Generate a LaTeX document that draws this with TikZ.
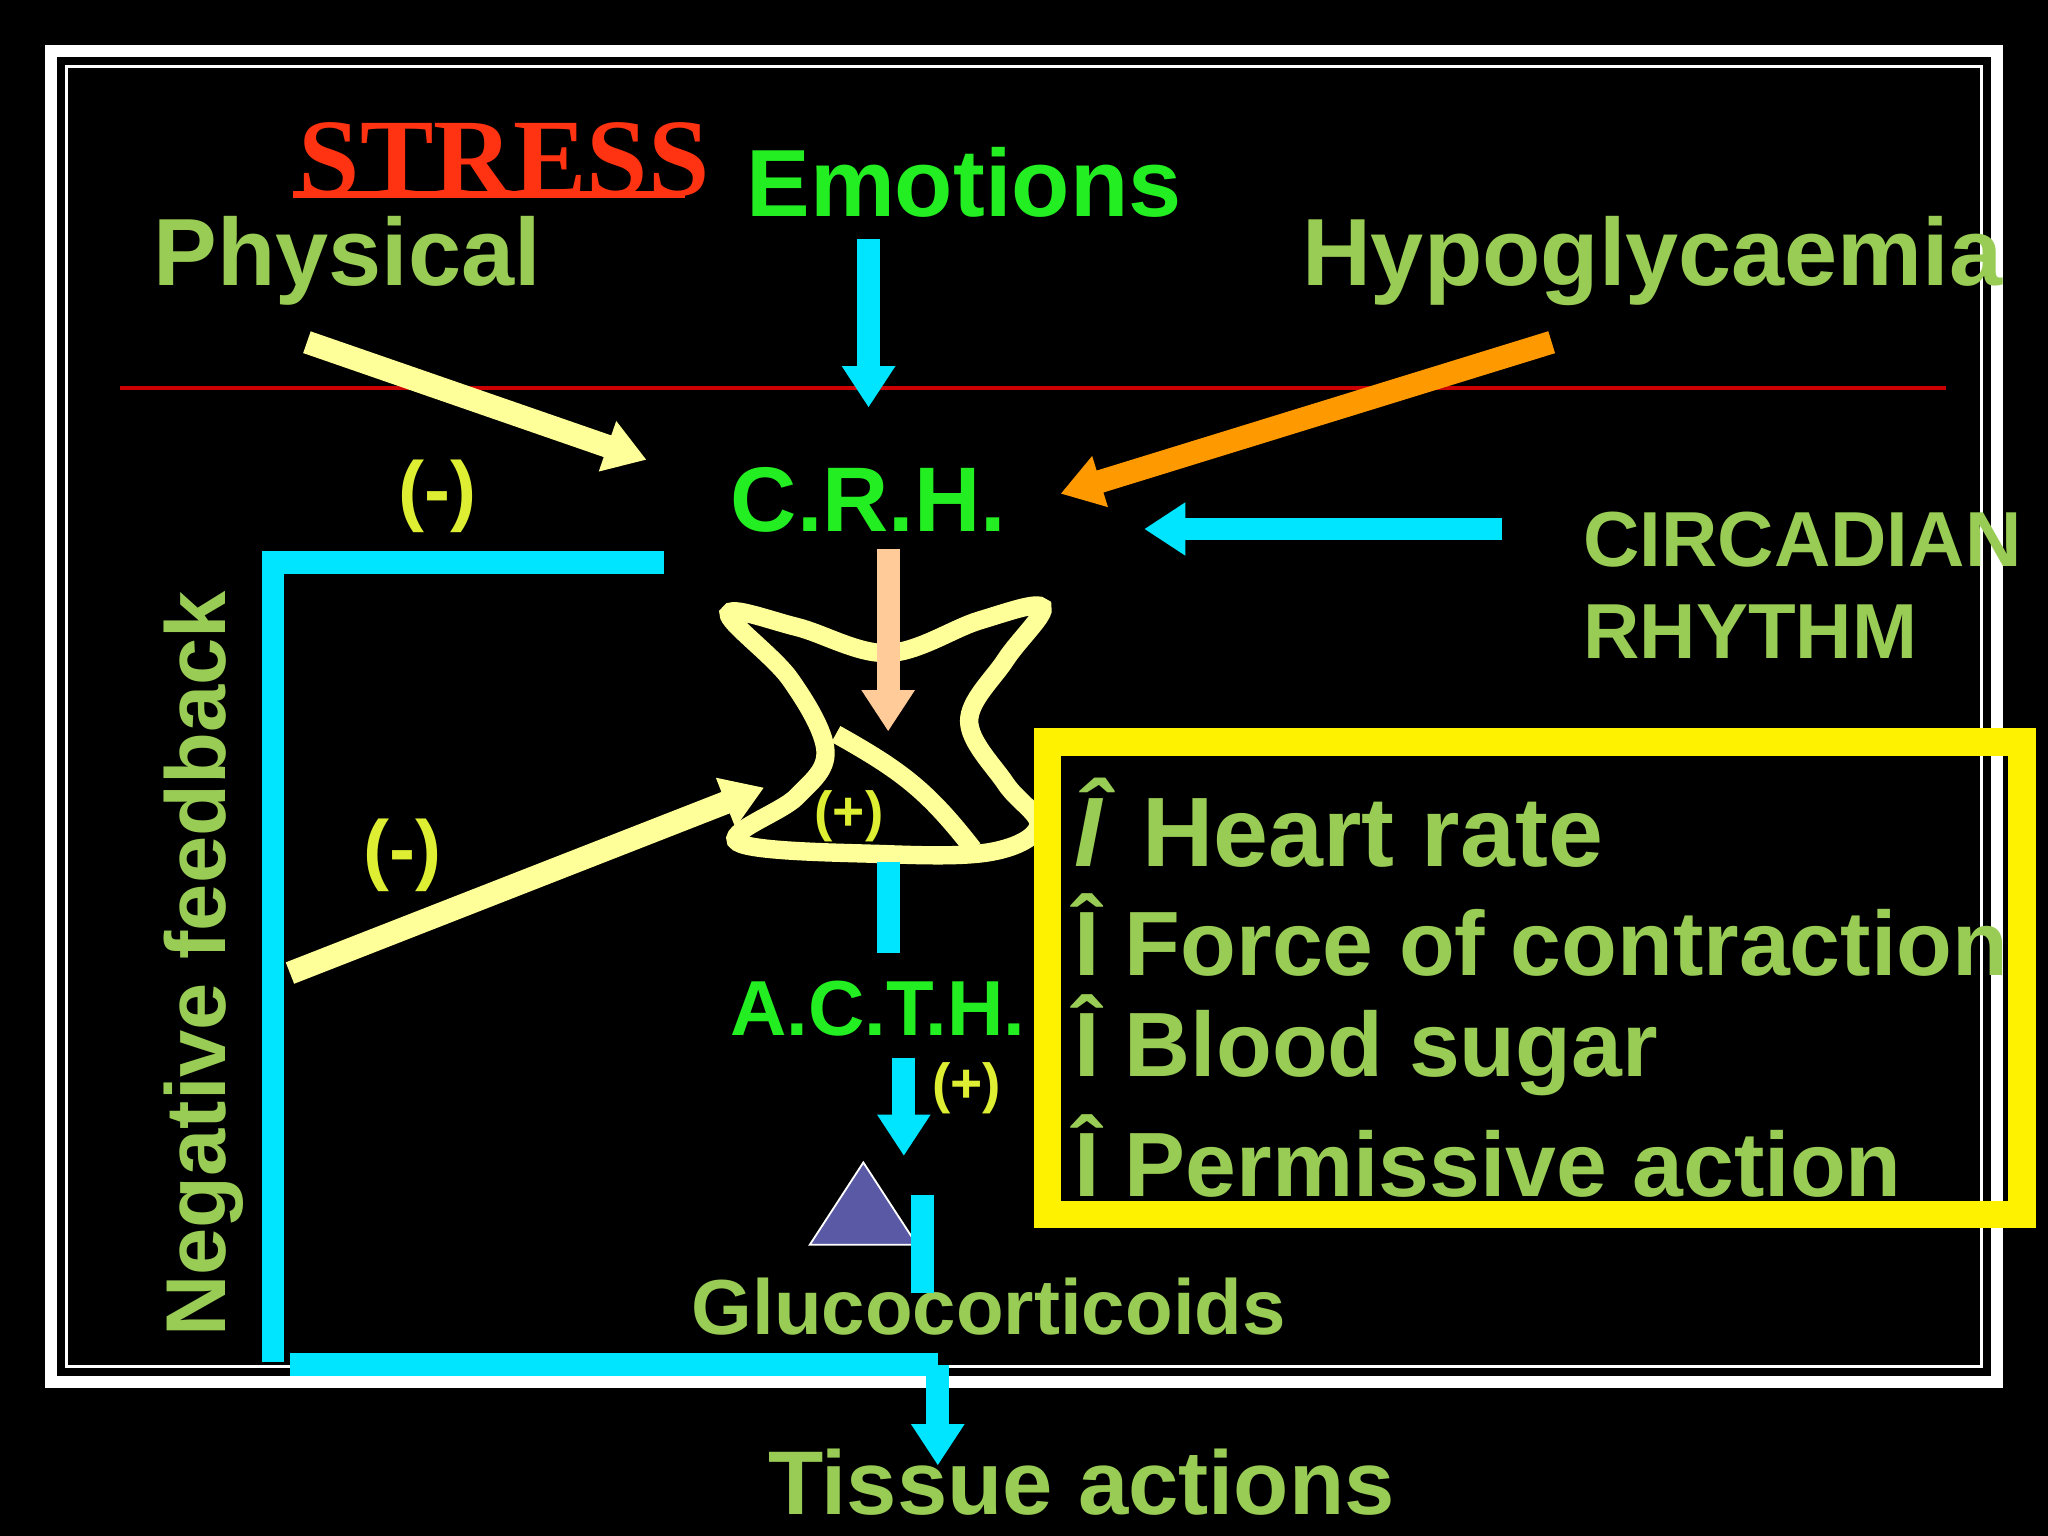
\documentclass[tikz,border=0pt]{standalone}
\usepackage{fontspec}
\setmainfont{Liberation Sans}
\newfontfamily\serifb{Liberation Serif}
\usetikzlibrary{arrows.meta}
\definecolor{lg}{HTML}{99CC55}
\definecolor{gg}{HTML}{22EE22}
\definecolor{cy}{HTML}{00E5FF}
\definecolor{yl}{HTML}{FFFF99}
\definecolor{ym}{HTML}{DDEE33}
\definecolor{org}{HTML}{FF9900}
\definecolor{pk}{HTML}{FFCC99}
\definecolor{stress}{HTML}{FF3311}
\begin{document}
\begin{tikzpicture}[x=0.1mm,y=-0.1mm,
  big/.style={font=\fontsize{20.8}{24}\selectfont\bfseries},
  box/.style={font=\fontsize{19.9}{24}\selectfont\bfseries,text=lg,anchor=west},
  mid/.style={font=\fontsize{17}{20}\selectfont\bfseries},
  sm/.style={font=\fontsize{12}{14}\selectfont\bfseries},
  arr/.style={line width=5pt,-{Triangle[length=9pt,width=11pt]}},
  ln/.style={line width=5pt}]
\fill[black] (0,0) rectangle (1568,1176);
\useasboundingbox (0,0) rectangle (1568,1176);
\draw[white,line width=2.6pt] (39,39) rectangle (1529,1058);
\draw[white,line width=0.7pt] (51,51) rectangle (1517,1046);
\draw[red!80!black,line width=0.7pt] (92,297) -- (1490,297);
\node[text=stress,font=\serifb\fontsize{24}{26}\selectfont\bfseries] (stress) at (386,122) {STRESS};
\draw[stress,line width=1.5pt] (stress.south west)++(8,-14) -- ++(300,0);
\node[big,text=gg] (emo) at (738,140) {Emotions};
\node[big,text=lg] (phys) at (266,200) {Physical};
\node[big,text=lg] (hypo) at (1265,200) {Hypoglycaemia};
\node[font=\fontsize{20}{24}\selectfont\bfseries,text=gg] (crh) at (665,383) {C.R.H.};
\node[mid,text=lg,align=left,anchor=west] (circ) at (1200,448) {CIRCADIAN\\[0pt]RHYTHM};
\node[mid,text=ym] (m1) at (335,380) {(-)};
\node[mid,text=ym] (m2) at (308,655) {(-)};
\node[font=\fontsize{18.5}{22}\selectfont\bfseries,text=lg,rotate=90] (neg) at (156,738) {Negative feedback};
\node[mid,text=gg] (acth) at (672,772) {A.C.T.H.};
\node[sm,text=ym] (p1) at (650,625) {(+)};
\node[sm,text=ym] (p2) at (740,833) {(+)};
\node[mid,text=lg] (gluc) at (757,1000) {Glucocorticoids};
\node[font=\fontsize{19.7}{22}\selectfont\bfseries,text=lg] (tiss) at (828,1135) {Tissue actions};
\coordinate (pa) at (235,262); \coordinate (pb) at (495,352);
\draw[arr,yl] (pa) -- (pb);
\coordinate (ea) at (665,183); \coordinate (eb) at (665,312);
\draw[arr,cy] (ea) -- (eb);
\coordinate (ha) at (1188,262); \coordinate (hb) at (812,378);
\draw[arr,org] (ha) -- (hb);
\coordinate (ca) at (1150,405); \coordinate (cb) at (876,405);
\draw[arr,cy] (ca) -- (cb);
\coordinate (f1) at (508,431); \coordinate (f2) at (209,431); \coordinate (f3) at (209,1043);
\draw[ln,cy] (f1) -- (f2) -- (f3);
\coordinate (b1) at (222,1045); \coordinate (b2) at (718,1045); \coordinate (b3) at (718,1122);
\draw[ln,cy] (b1) -- (b2);
\draw[arr,cy] (b2) -- (b3);
% pituitary
\draw[yl,line width=4pt] plot[smooth cycle,tension=0.6] coordinates {(558,470) (610,480) (680,500) (750,475) (798,465) (770,505) (742,552) (770,600) (795,632) (760,652) (680,654) (565,645) (610,610) (632,575) (605,520)};
\draw[yl,line width=4pt] (640,562) .. controls (690,590) and (710,605) .. (745,650);
\coordinate (ka) at (680,420); \coordinate (kb) at (680,560);
\draw[arr,pk] (ka) -- (kb);
\coordinate (ya) at (222,745); \coordinate (yb) at (585,603);
\draw[arr,yl] (ya) -- (yb);
\coordinate (l1) at (680,660); \coordinate (l2) at (680,730);
\draw[ln,cy] (l1) -- (l2);
\coordinate (aa) at (692,810); \coordinate (ab) at (692,885);
\draw[arr,cy] (aa) -- (ab);
\fill[fill=blue!30!gray,draw=white,line width=0.4pt] (620,953) -- (702,953) -- (661,890) -- cycle;
\coordinate (v1) at (706,915); \coordinate (v2) at (706,990);
\draw[ln,cy] (v1) -- (v2);
\draw[yellow,line width=6pt] (802,568) rectangle (1548,930);
\node[font=\fontsize{21.5}{26}\selectfont\bfseries,text=lg,anchor=west] (e1) at (810,630) {\textit{Î} Heart rate};
\node[box] (e2) at (810,716) {Î Force of contraction};
\node[box] (e3) at (810,800) {Î Blood sugar};
\node[box] (e4) at (810,885) {Î Permissive action};
\end{tikzpicture}
\end{document}
